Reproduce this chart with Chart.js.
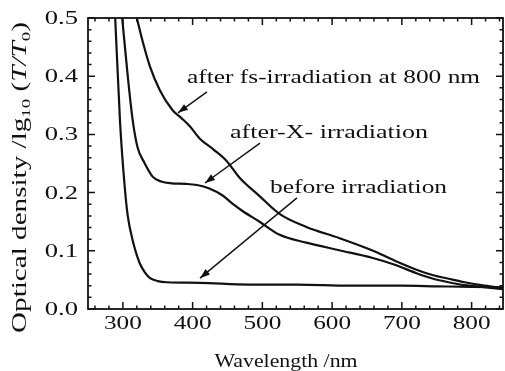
<!DOCTYPE html>
<html><head><meta charset="utf-8">
<script src="https://cdn.jsdelivr.net/npm/chart.js@4/dist/chart.umd.min.js"></script>
<style>html,body{margin:0;padding:0;background:#fff;}canvas{display:block;}</style>
</head><body>
<canvas id="c" width="505" height="371"></canvas>
<script>
// ---- data ----
const beforeWl = [289,296,303,307,314,324,332,339,350,363,410,481,550,624,700,750,800,845];
const beforeOD = [0.50,0.32,0.205,0.160,0.118,0.079,0.062,0.053,0.048,0.046,0.045,0.042,0.042,0.040,0.040,0.039,0.038,0.037];

const xrayWl = [299,307,314,321,331,343,355,370,390,406,424,443,458,472,496,524,563,610,657,690,720,745,767,790,814,845];
const xrayOD = [0.50,0.40,0.325,0.278,0.251,0.227,0.219,0.216,0.215,0.213,0.207,0.195,0.180,0.168,0.150,0.128,0.114,0.101,0.088,0.076,0.062,0.052,0.046,0.041,0.038,0.034];

const fsWl = [320,329,339,353,371,384,396,410,430,449,467,496,524,563,610,657,690,720,745,767,790,814,845];
const fsOD = [0.50,0.457,0.416,0.376,0.342,0.328,0.314,0.293,0.274,0.254,0.226,0.194,0.164,0.141,0.122,0.101,0.083,0.068,0.058,0.052,0.046,0.041,0.036];

const xTicks = [300,400,500,600,700,800];
const xMinor = [260,280,320,340,360,380,420,440,460,480,520,540,560,580,620,640,660,680,720,740,760,780,820,840];
const yTicks = [0,0.1,0.2,0.3,0.4,0.5];
const yMinor = [0.02,0.04,0.06,0.08,0.12,0.14,0.16,0.18,0.22,0.24,0.26,0.28,0.32,0.34,0.36,0.38,0.42,0.44,0.46,0.48];

const labels = ["after fs-irradiation at 800 nm","after-X- irradiation","before irradiation"];
// annotation anchor (text left/baseline) and arrows [from, to] in data units
const labelPos = [[392,0.388],[453.6,0.294],[511,0.199]];
const arrows = [[[420.6,0.373],[379,0.337]],[[496.6,0.285],[417.7,0.2165]],[[549.6,0.191],[410.6,0.053]]];
const labelWidths = [293,198,177];

const toPts = (xs,ys)=>xs.map((x,i)=>({x:x,y:ys[i]}));
const INK = '#111';
const SERIF = '"Liberation Serif","Times New Roman",serif';

function stretchText(ctx, str, x, y, sx, align){
  const w = ctx.measureText(str).width*sx;
  let x0 = x;
  if(align==='center') x0 = x - w/2;
  else if(align==='right') x0 = x - w;
  ctx.save(); ctx.translate(x0,y); ctx.scale(sx,1); ctx.textAlign='left'; ctx.fillText(str,0,0); ctx.restore();
  return w;
}
function arrow(ctx,x1,y1,x2,y2){
  ctx.beginPath(); ctx.moveTo(x1,y1); ctx.lineTo(x2,y2); ctx.stroke();
  const a = Math.atan2(y2-y1,x2-x1), L=10, W=3.5;
  ctx.beginPath();
  ctx.moveTo(x2,y2);
  ctx.lineTo(x2 - L*Math.cos(a) + W*Math.sin(a), y2 - L*Math.sin(a) - W*Math.cos(a));
  ctx.lineTo(x2 - L*Math.cos(a) - W*Math.sin(a), y2 - L*Math.sin(a) + W*Math.cos(a));
  ctx.closePath(); ctx.fill();
}

const decor = {
  id:'decor',
  afterDraw(chart){
    const ctx = chart.ctx, xs = chart.scales.x, ys = chart.scales.y, a = chart.chartArea;
    ctx.save();
    ctx.strokeStyle = INK; ctx.fillStyle = INK;
    // frame
    ctx.lineWidth = 1.8;
    ctx.strokeRect(a.left, a.top, a.right-a.left, a.bottom-a.top);
    // ticks (inward, all sides)
    ctx.lineWidth = 1.5;
    ctx.beginPath();
    const tx = (v,len)=>{const p=xs.getPixelForValue(v); ctx.moveTo(p,a.bottom); ctx.lineTo(p,a.bottom-len); ctx.moveTo(p,a.top); ctx.lineTo(p,a.top+len);};
    const ty = (v,len)=>{const p=ys.getPixelForValue(v); ctx.moveTo(a.left,p); ctx.lineTo(a.left+len,p); ctx.moveTo(a.right,p); ctx.lineTo(a.right-len,p);};
    xTicks.forEach(v=>tx(v,7)); xMinor.forEach(v=>tx(v,3.5));
    yTicks.forEach(v=>ty(v,7)); yMinor.forEach(v=>ty(v,3.5));
    ctx.stroke();
    // tick labels
    ctx.font = '19px '+SERIF; ctx.textBaseline='alphabetic';
    xTicks.forEach(v=>stretchText(ctx, String(v), xs.getPixelForValue(v), 329, 1.33, 'center'));
    ctx.textBaseline='middle';
    yTicks.forEach(v=>stretchText(ctx, v.toFixed(1), 78, ys.getPixelForValue(v)+1, 1.4, 'right'));
    // x title
    ctx.textBaseline='alphabetic';
    ctx.font = '19px '+SERIF;
    {const s='Wavelength /nm'; const sx = 143/ctx.measureText(s).width; stretchText(ctx, s, 286, 367, sx, 'center');}
    // y title with sub/italic parts
    {
      const parts = [['Optical density /lg','20px '+SERIF,0],['10','13px '+SERIF,4],[' (','20px '+SERIF,0],['T/T','italic 20px '+SERIF,0],['0','13px '+SERIF,4],[')','20px '+SERIF,0]];
      let tot=0; parts.forEach(p=>{ctx.font=p[1]; tot+=ctx.measureText(p[0]).width;});
      const sx = 311/tot;
      ctx.save(); ctx.translate(26,333); ctx.rotate(-Math.PI/2);
      let x=0;
      parts.forEach(p=>{ctx.font=p[1]; const w=ctx.measureText(p[0]).width; ctx.save(); ctx.translate(x,p[2]); ctx.scale(sx,1); ctx.fillText(p[0],0,0); ctx.restore(); x+=w*sx;});
      ctx.restore();
    }
    // annotations
    ctx.font = '19px '+SERIF;
    labels.forEach((s,i)=>{
      const sx = labelWidths[i]/ctx.measureText(s).width;
      stretchText(ctx, s, xs.getPixelForValue(labelPos[i][0]), ys.getPixelForValue(labelPos[i][1]), sx, 'left');
    });
    ctx.lineWidth = 1.4;
    arrows.forEach(ar=>{
      arrow(ctx, xs.getPixelForValue(ar[0][0]), ys.getPixelForValue(ar[0][1]), xs.getPixelForValue(ar[1][0]), ys.getPixelForValue(ar[1][1]));
    });
    ctx.restore();
  }
};

const ds = (xs,ys)=>({data:toPts(xs,ys), borderColor:INK, borderWidth:2.2, pointRadius:0, fill:false, cubicInterpolationMode:'monotone'});

new Chart(document.getElementById('c'), {
  type:'line',
  data:{datasets:[ds(beforeWl,beforeOD), ds(xrayWl,xrayOD), ds(fsWl,fsOD)]},
  options:{
    responsive:false, animation:false, devicePixelRatio:1,
    layout:{padding:{top:18,right:2,left:0,bottom:0}},
    plugins:{legend:{display:false}, tooltip:{enabled:false}},
    scales:{
      x:{type:'linear', min:250, max:845, ticks:{display:false}, grid:{display:false}, border:{display:false},
         afterFit:s=>{s.height=62;}},
      y:{min:0, max:0.5, ticks:{display:false}, grid:{display:false}, border:{display:false},
         afterFit:s=>{s.width=88;}}
    }
  },
  plugins:[decor]
});
</script>
</body></html>
